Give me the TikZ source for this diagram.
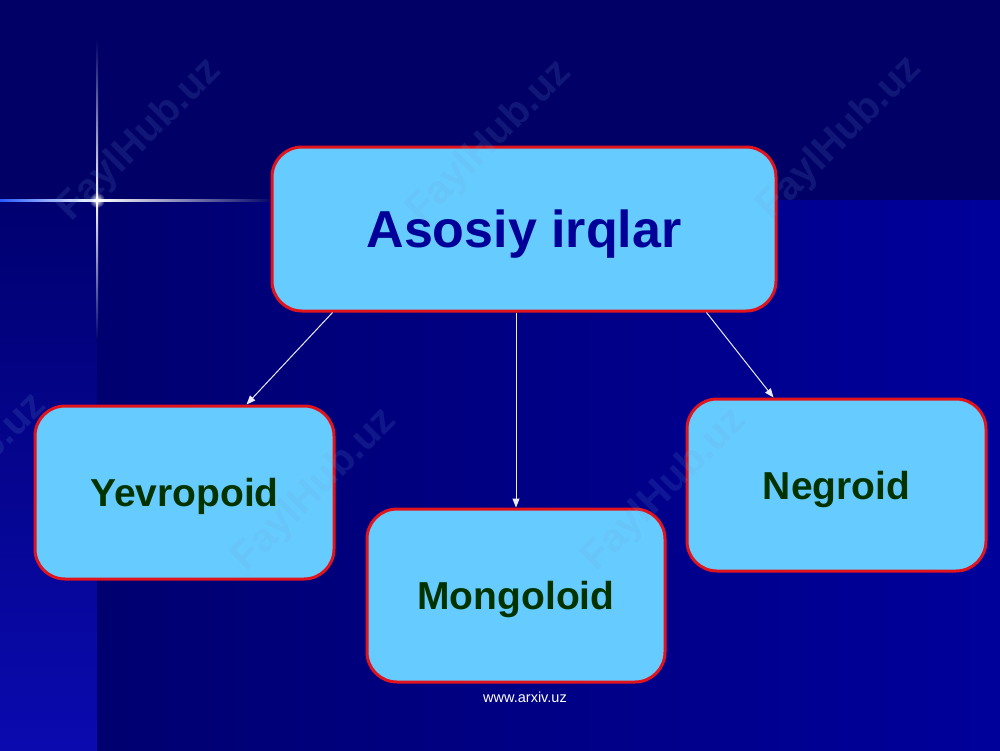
\documentclass[tikz,border=0pt]{standalone}
\usepackage{fontspec}
\setmainfont{Liberation Sans}
\usetikzlibrary{arrows.meta,fadings,calc}
\tikzfading[name=glowfade, inner color=transparent!0, outer color=transparent!100]
\definecolor{bgtop}{RGB}{0,0,102}
\definecolor{bgmidl}{RGB}{0,0,112}
\definecolor{bgmidr}{RGB}{0,0,155}
\definecolor{stripbot}{RGB}{10,10,175}
\definecolor{starblue}{RGB}{40,90,255}
\definecolor{boxfill}{RGB}{102,204,255}
\definecolor{boxred}{RGB}{225,20,30}
\definecolor{titleblue}{RGB}{0,0,153}
\definecolor{labgreen}{RGB}{0,51,0}
\definecolor{wmcol}{RGB}{110,160,215}
\begin{document}
\begin{tikzpicture}[x=1pt,y=-1pt,
  box/.style={draw=boxred, line width=3pt, fill=boxfill, rounded corners=30pt,
    inner sep=0pt, minimum width=#1},
  lab/.style={text=labgreen, inner sep=0pt, font=\fontsize{39}{45}\selectfont\bfseries},
  title/.style={text=titleblue, inner sep=0pt, font=\fontsize{52}{60}\selectfont\bfseries},
  conn/.style={draw={rgb,255:red,235;green,235;blue,255}, line width=1pt,
    -{Triangle[length=9pt,width=7pt]}},
  wm/.style={text=wmcol, opacity=0.15, rotate=45,
    font=\fontsize{40}{46}\selectfont\bfseries}]
\useasboundingbox (0,0) rectangle (1000,750);
% background
\fill[bgtop] (0,0) rectangle (1000,750);
\shade[left color=bgmidl, right color=bgmidr] (97,200) rectangle (1000,750);
\shade[top color=bgmidl, bottom color=stripbot] (0,200) rectangle (97,750);
% star
\shade[left color=starblue, right color=white] (0,199.2) rectangle (97,201);
\shade[left color=white, right color=bgtop] (97,199.2) rectangle (275,201);
\shade[top color=bgtop, bottom color=white] (96.2,40) rectangle (98,200);
\shade[top color=white, bottom color=bgmidl] (96.2,200) rectangle (98,340);
\fill[white, path fading=glowfade] (97,200) circle (8);
% boxes
\node[box=504pt, minimum height=164pt] (main) at (524,229) {};
\node[box=299pt, minimum height=173pt] (yev) at (184.5,492.5) {};
\node[box=298pt, minimum height=173pt] (mon) at (516,595.5) {};
\node[box=299pt, minimum height=172pt] (neg) at (836.5,485) {};
% texts
\node[title] (maint) at ([yshift=-5pt]main.center) {Asosiy irqlar};
\node[lab] (yevt) at ([yshift=-4pt]yev.center) {Yevropoid};
\node[lab] (mont) at ([yshift=-4pt]mon.center) {Mongoloid};
\node[lab] (negt) at ([yshift=-4pt]neg.center) {Negroid};
% connectors
\draw[conn] ([xshift=62pt]main.south west) -- ([xshift=213pt]yev.north west);
\draw[conn] (main.south -| mon.north) -- (mon.north);
\draw[conn] ([xshift=-71pt]main.south east) -- ([xshift=88pt]neg.north west);
% footer
\node[text=white, font=\fontsize{14.5}{16}\selectfont] (foot) at (525,697) {www.arxiv.uz};
% watermarks
\node[wm] (w1) at (140,140) {FaylHub.uz};
\node[wm] (w2) at (490,142) {FaylHub.uz};
\node[wm] (w3) at (840,138) {FaylHub.uz};
\node[wm] (w4) at (-35,475) {FaylHub.uz};
\node[wm] (w5) at (315,490) {FaylHub.uz};
\node[wm] (w6) at (665,490) {FaylHub.uz};
\end{tikzpicture}
\end{document}
